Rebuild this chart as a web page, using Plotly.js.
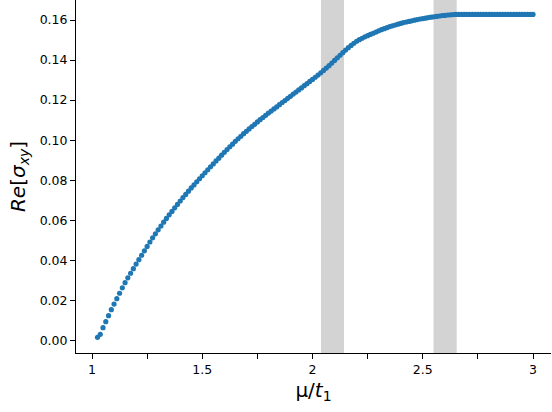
<!DOCTYPE html>
<html>
<head>
<meta charset="utf-8">
<script src="https://cdn.plot.ly/plotly-3.0.1.min.js"></script>
<style>html,body{margin:0;padding:0;background:#fff;}#chart{width:552px;height:412px;}</style>
</head>
<body>
<div id="chart"></div>
<script>
// mu / t1 values
var muValues = [
  1.025, 1.0375, 1.05, 1.0625, 1.075, 1.0875, 1.1, 1.1125,
  1.125, 1.1375, 1.15, 1.1625, 1.175, 1.1875, 1.2, 1.2125,
  1.225, 1.2375, 1.25, 1.2625, 1.275, 1.2875, 1.3, 1.3125,
  1.325, 1.3375, 1.35, 1.3625, 1.375, 1.3875, 1.4, 1.4125,
  1.425, 1.4375, 1.45, 1.4625, 1.475, 1.4875, 1.5, 1.5125,
  1.525, 1.5375, 1.55, 1.5625, 1.575, 1.5875, 1.6, 1.6125,
  1.625, 1.6375, 1.65, 1.6625, 1.675, 1.6875, 1.7, 1.7125,
  1.725, 1.7375, 1.75, 1.7625, 1.775, 1.7875, 1.8, 1.8125,
  1.825, 1.8375, 1.85, 1.8625, 1.875, 1.8875, 1.9, 1.9125,
  1.925, 1.9375, 1.95, 1.9625, 1.975, 1.9875, 2.0, 2.0125,
  2.025, 2.0375, 2.05, 2.0625, 2.075, 2.0875, 2.1, 2.1125,
  2.125, 2.1375, 2.15, 2.1625, 2.175, 2.1875, 2.2, 2.2125,
  2.225, 2.2375, 2.25, 2.2625, 2.275, 2.2875, 2.3, 2.3125,
  2.325, 2.3375, 2.35, 2.3625, 2.375, 2.3875, 2.4, 2.4125,
  2.425, 2.4375, 2.45, 2.4625, 2.475, 2.4875, 2.5, 2.5125,
  2.525, 2.5375, 2.55, 2.5625, 2.575, 2.5875, 2.6, 2.6125,
  2.625, 2.6375, 2.65, 2.6625, 2.675, 2.6875, 2.7, 2.7125,
  2.725, 2.7375, 2.75, 2.7625, 2.775, 2.7875, 2.8, 2.8125,
  2.825, 2.8375, 2.85, 2.8625, 2.875, 2.8875, 2.9, 2.9125,
  2.925, 2.9375, 2.95, 2.9625, 2.975, 2.9875, 3.0
];
// Re[sigma_xy] values
var sigmaValues = [
  0.0015, 0.0030, 0.0063, 0.0093, 0.0123, 0.0153, 0.0181, 0.0208,
  0.0235, 0.0262, 0.0288, 0.0312, 0.0335, 0.0358, 0.0381, 0.0403,
  0.0425, 0.0447, 0.0469, 0.0491, 0.0512, 0.0532, 0.0552, 0.0571,
  0.0590, 0.0609, 0.0627, 0.0644, 0.0662, 0.0679, 0.0696, 0.0713,
  0.0729, 0.0745, 0.0761, 0.0776, 0.0792, 0.0807, 0.0822, 0.0837,
  0.0852, 0.0867, 0.0881, 0.0896, 0.0910, 0.0925, 0.0939, 0.0953,
  0.0967, 0.0980, 0.0994, 0.1007, 0.1019, 0.1032, 0.1044, 0.1056,
  0.1068, 0.1079, 0.1091, 0.1102, 0.1113, 0.1124, 0.1135, 0.1145,
  0.1156, 0.1166, 0.1177, 0.1188, 0.1198, 0.1209, 0.1219, 0.1230,
  0.1240, 0.1251, 0.1261, 0.1272, 0.1282, 0.1293, 0.1303, 0.1314,
  0.1325, 0.1336, 0.1348, 0.1360, 0.1372, 0.1385, 0.1398, 0.1411,
  0.1424, 0.1437, 0.1450, 0.1462, 0.1473, 0.1484, 0.1494, 0.1502,
  0.1509, 0.1516, 0.1522, 0.1528, 0.1534, 0.1540, 0.1546, 0.1552,
  0.1557, 0.1562, 0.1567, 0.1571, 0.1575, 0.1579, 0.1583, 0.1587,
  0.1590, 0.1593, 0.1596, 0.1599, 0.1602, 0.1605, 0.1607, 0.1609,
  0.1612, 0.1614, 0.1616, 0.1618, 0.1620, 0.1622, 0.1623, 0.1625,
  0.1626, 0.1627, 0.1628, 0.1628, 0.1628, 0.1628, 0.1628, 0.1628,
  0.1628, 0.1628, 0.1628, 0.1628, 0.1628, 0.1628, 0.1628, 0.1628,
  0.1628, 0.1628, 0.1628, 0.1628, 0.1628, 0.1628, 0.1628, 0.1628,
  0.1628, 0.1628, 0.1628, 0.1628, 0.1628, 0.1628, 0.1628
];
// shaded intervals [start, end] in mu/t1
var bandStarts = [2.0385, 2.549];
var bandEnds = [2.143, 2.654];
// ticks
var xTickVals = [1, 1.5, 2, 2.5, 3];
var xTickText = ['1', '1.5', '2', '2.5', '3'];
var xMinorTickVals = [1.25, 1.75, 2.25, 2.75];
var yTickVals = [0, 0.02, 0.04, 0.06, 0.08, 0.10, 0.12, 0.14, 0.16];
var yTickText = ['0.00', '0.02', '0.04', '0.06', '0.08', '0.10', '0.12', '0.14', '0.16'];

var shapes = bandStarts.map(function (s, i) {
  return {
    type: 'rect', xref: 'x', yref: 'paper',
    x0: s, x1: bandEnds[i], y0: 0, y1: 1,
    fillcolor: '#d3d3d3', line: {width: 0}, layer: 'below'
  };
});

var trace = {
  x: muValues, y: sigmaValues,
  type: 'scatter', mode: 'markers',
  marker: {color: '#1f77b4', size: 5.2, line: {width: 0}},
  cliponaxis: false,
  hoverinfo: 'skip'
};

var font = {family: 'DejaVu Sans', size: 12.5, color: '#000'};

var layout = {
  width: 552, height: 412,
  margin: {l: 76, r: 1, t: 0, b: 59, pad: 0},
  paper_bgcolor: '#fff', plot_bgcolor: 'rgba(0,0,0,0)',
  showlegend: false,
  font: font,
  shapes: shapes,
  xaxis: {
    range: [0.9274, 3.0816],
    tickmode: 'array', tickvals: xTickVals, ticktext: xTickText,
    ticks: 'outside', ticklen: 5, tickwidth: 1, tickcolor: '#000',
    minor: {tickmode: 'array', tickvals: xMinorTickVals, ticks: 'outside', ticklen: 5, tickwidth: 1, tickcolor: '#000', showgrid: false},
    showline: true, linecolor: '#000', linewidth: 1,
    showgrid: false, zeroline: false,
    tickfont: font,
    title: {text: 'μ/<i>t</i><sub>1</sub>', font: {family: 'DejaVu Sans', size: 20, color: '#000'}, standoff: 6},
    automargin: false
  },
  yaxis: {
    range: [-0.00634, 0.17],
    tickmode: 'array', tickvals: yTickVals, ticktext: yTickText,
    ticks: 'outside', ticklen: 5, tickwidth: 1, tickcolor: '#000',
    showline: true, linecolor: '#000', linewidth: 1,
    showgrid: false, zeroline: false,
    tickfont: font,
    title: {text: '<i>Re</i>[<i>σ</i><sub><i>xy</i></sub>]', font: {family: 'DejaVu Sans', size: 20, color: '#000'}, standoff: 8},
    automargin: false
  }
};

Plotly.newPlot('chart', [trace], layout, {staticPlot: true, displayModeBar: false});
</script>
</body>
</html>
